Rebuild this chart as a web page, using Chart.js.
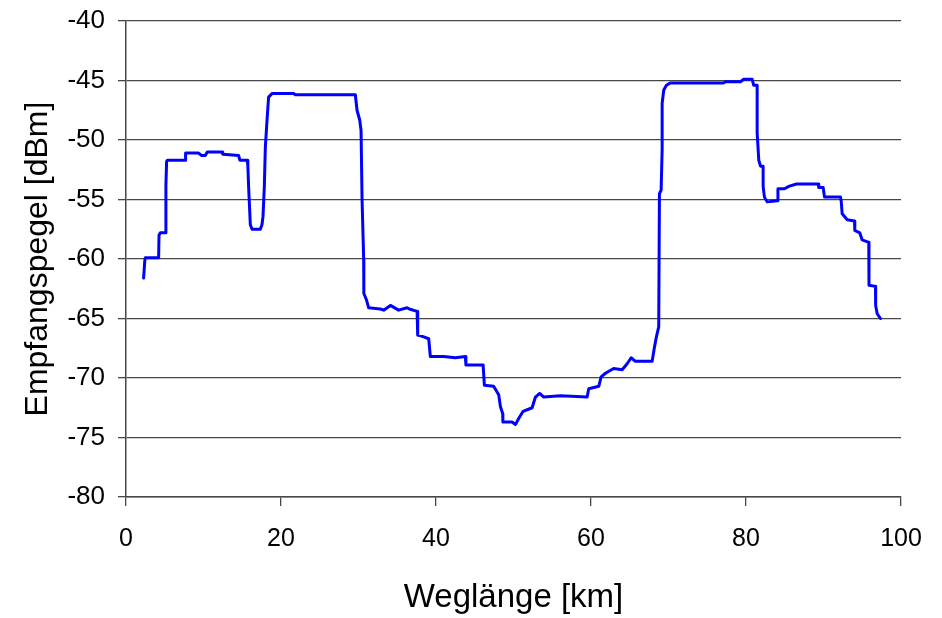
<!DOCTYPE html>
<html>
<head>
<meta charset="utf-8">
<script src="https://cdn.jsdelivr.net/npm/chart.js@4/dist/chart.umd.min.js"></script>
<style>
html,body{margin:0;padding:0;background:#fff;}
canvas{display:block;}
</style>
</head>
<body>
<canvas id="c" width="942" height="618"></canvas>
<script>
// Weglänge [km]
const distanceKm = [
  2.27, 2.43, 2.49, 4.21, 4.26, 4.43, 5.07, 5.14, 5.16, 5.24, 5.33, 7.65, 7.69, 9.37, 9.72, 10.23, 10.49, 12.39, 12.49, 14.53,
  14.69, 15.62, 15.72, 15.82, 16.04, 16.26, 17.33, 17.55, 17.68, 17.85, 17.98, 18.2, 18.4, 18.84, 21.63, 21.85, 29.59, 29.81, 30.15, 30.33,
  30.46, 30.67, 30.69, 31.01, 31.31, 32.82, 33.25, 34.11, 35.18, 36.27, 36.56, 37.56, 37.64, 38.24, 39.06, 39.27, 40.99, 42.5, 43.79, 43.86,
  46.08, 46.24, 47.44, 48.09, 48.31, 48.61, 48.63, 49.82, 50.25, 50.67, 51.24, 52.4, 52.83, 53.38, 53.9, 56.05, 59.5, 59.71, 61.0, 61.31,
  61.86, 62.93, 64.02, 64.66, 65.18, 65.73, 67.89, 68.19, 68.45, 68.74, 68.83, 69.05, 69.18, 69.18, 69.39, 69.73, 70.25, 77.13, 77.35, 79.29,
  79.71, 80.8, 81.0, 81.44, 81.44, 81.65, 81.87, 82.21, 82.21, 82.38, 82.73, 84.1, 84.12, 84.96, 85.52, 86.51, 89.31, 89.39, 89.96, 90.13,
  92.19, 92.28, 92.41, 93.06, 94.0, 94.04, 94.68, 94.99, 95.84, 95.87, 96.71, 96.73, 96.93, 97.35
];
// Empfangspegel [dBm]
const levelDbm = [
  -61.6, -60.1, -59.9, -59.9, -58.0, -57.8, -57.8, -55.0, -53.8, -51.8, -51.7, -51.7, -51.1, -51.1, -51.3, -51.3, -51.0, -51.0, -51.2, -51.3,
  -51.7, -51.7, -52.1, -53.9, -57.1, -57.5, -57.5, -57.1, -56.4, -53.9, -50.6, -48.3, -46.4, -46.1, -46.1, -46.2, -46.2, -47.5, -48.3, -49.2,
  -55.0, -60.1, -62.9, -63.4, -64.1, -64.2, -64.3, -63.9, -64.3, -64.1, -64.2, -64.4, -66.4, -66.5, -66.7, -68.2, -68.2, -68.3, -68.2, -68.9,
  -68.9, -70.6, -70.7, -71.4, -72.4, -73.0, -73.7, -73.7, -73.9, -73.4, -72.8, -72.5, -71.6, -71.3, -71.6, -71.5, -71.6, -70.9, -70.7, -69.9,
  -69.6, -69.2, -69.3, -68.8, -68.3, -68.6, -68.6, -67.4, -66.5, -65.7, -54.5, -54.2, -50.8, -46.9, -45.8, -45.4, -45.2, -45.2, -45.1, -45.1,
  -44.9, -44.9, -45.4, -45.4, -49.4, -51.7, -52.2, -52.2, -53.9, -54.8, -55.2, -55.1, -54.1, -54.1, -53.9, -53.7, -53.7, -54.0, -54.0, -54.8,
  -54.8, -55.1, -56.2, -56.7, -56.8, -57.6, -57.8, -58.4, -58.6, -62.2, -62.3, -63.9, -64.6, -65.0
];
const xTicks = [0, 20, 40, 60, 80, 100];
const yTicks = [-80, -75, -70, -65, -60, -55, -50, -45, -40];
const xTitle = 'Weglänge [km]';
const yTitle = 'Empfangspegel [dBm]';

const points = distanceKm.map((x, i) => ({ x: x, y: levelDbm[i] }));
const FONT = '"Liberation Sans", Arial, Helvetica, sans-serif';
const GRID = '#474747';

new Chart(document.getElementById('c'), {
  type: 'scatter',
  data: {
    datasets: [{
      data: points,
      showLine: true,
      borderColor: '#0000ff',
      backgroundColor: '#0000ff',
      borderWidth: 3,
      pointRadius: 0,
      tension: 0,
      borderJoinStyle: 'round',
      borderCapStyle: 'round'
    }]
  },
  options: {
    responsive: false,
    animation: false,
    events: [],
    layout: { padding: { left: 0, top: 21, right: 41, bottom: 0 } },
    plugins: { legend: { display: false }, tooltip: { enabled: false } },
    scales: {
      x: {
        type: 'linear',
        min: 0, max: 100,
        afterBuildTicks: s => { s.ticks = xTicks.map(v => ({ value: v })); },
        afterFit: s => { s.height = 121; s.paddingLeft = 0; s.paddingRight = 0; },
        ticks: { color: '#000', font: { family: FONT, size: 25 }, padding: 18, maxRotation: 0 },
        grid: { drawOnChartArea: false, drawTicks: true, tickLength: 9, color: GRID, lineWidth: 1.3 },
        border: { display: true, color: GRID, width: 1.5 },
        title: { display: true, text: xTitle, color: '#000', font: { family: FONT, size: 33 }, padding: { top: 0, bottom: 0 } }
      },
      y: {
        type: 'linear',
        min: -80, max: -40,
        afterBuildTicks: s => { s.ticks = yTicks.map(v => ({ value: v })); },
        afterFit: s => { s.width = 126; s.paddingTop = 0; s.paddingBottom = 0; },
        ticks: { color: '#000', font: { family: FONT, size: 26 }, padding: 13 },
        grid: { drawOnChartArea: true, drawTicks: true, tickLength: 8, color: GRID, lineWidth: 1.3 },
        border: { display: true, color: GRID, width: 1.5 },
        title: { display: true, text: yTitle, color: '#000', font: { family: FONT, size: 32 }, padding: { top: 19, bottom: 0 } }
      }
    }
  }
});
</script>
</body>
</html>
